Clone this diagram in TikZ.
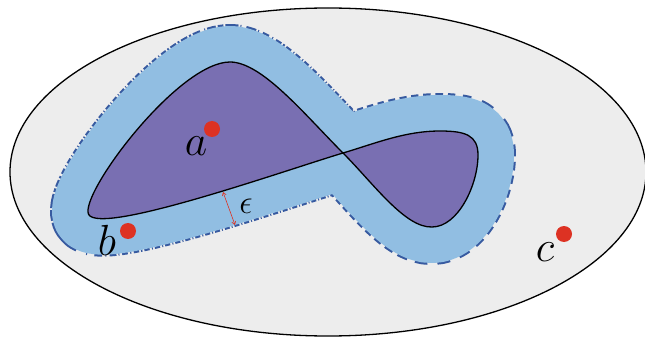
\documentclass[tikz,border=0pt]{standalone}
\usetikzlibrary{arrows.meta}
\definecolor{bgray}{RGB}{237,237,237}
\definecolor{lblue}{RGB}{145,190,226}
\definecolor{dblue}{RGB}{55,90,160}
\definecolor{purp}{RGB}{121,111,178}
\definecolor{dotred}{RGB}{221,50,35}
\def\leftloop{(343,153) .. controls (280,172) and (88,240) .. (88,212) .. controls (86,185) and (180,62) .. (230,62) .. controls (262,62) and (305,115) .. (343,153)}
\def\rightloop{(343,153) .. controls (373,183) and (405,228) .. (432,227) .. controls (458,227) and (478,185) .. (478,155) .. controls (478,135) and (465,131) .. (440,131) .. controls (405,131) and (375,143.5) .. (343,153)}
\tikzset{
  rimstroke/.style={draw=dblue, line width=76pt, line join=round},
  bandstroke/.style={draw=lblue, line width=72pt, line join=round},
  regionfill/.style={fill=purp, draw=black, line width=1.3pt},
  reddot/.style={circle, fill=dotred, inner sep=0pt, minimum size=16pt},
  lbl/.style={inner sep=0pt, font=\Huge, scale=1.75},
  epslbl/.style={inner sep=0pt, font=\Huge, scale=1.35},
  epsarrow/.style={draw=dotred, line width=0.6pt, {Straight Barb[length=3pt,width=4pt]}-{Straight Barb[length=3pt,width=4pt]}}
}
\begin{document}
\begin{tikzpicture}[x=1pt,y=-1pt]
\useasboundingbox (0,0) rectangle (645,339);
\clip (0,0) rectangle (645,339);
\fill[white] (0,0) rectangle (645,339);
\path[fill=bgray, draw=black, line width=1.3pt] (328,172) ellipse [x radius=318, y radius=164];
% dashed rims
\path[rimstroke, dash pattern=on 5pt off 2pt on 1pt off 2pt] \leftloop;
\path[rimstroke, dash pattern=on 6pt off 4pt] \rightloop;
% epsilon band
\path[bandstroke] \leftloop \rightloop;
% region
\path[regionfill] \leftloop \rightloop;
% points
\node[reddot] (da) at (212,129) {};
\node[reddot] (db) at (128,231) {};
\node[reddot] (dc) at (564,234) {};
\node[lbl] (la) at (196,146) {$a$};
\node[lbl] (lb) at (107,240) {$b$};
\node[lbl] (lc) at (545,252) {$c$};
% epsilon
\coordinate (e1) at (223,192);
\coordinate (e2) at (235,225);
\draw[epsarrow] (e1) -- (e2);
\node[epslbl] (le) at (246,206) {$\epsilon$};
\end{tikzpicture}
\end{document}
